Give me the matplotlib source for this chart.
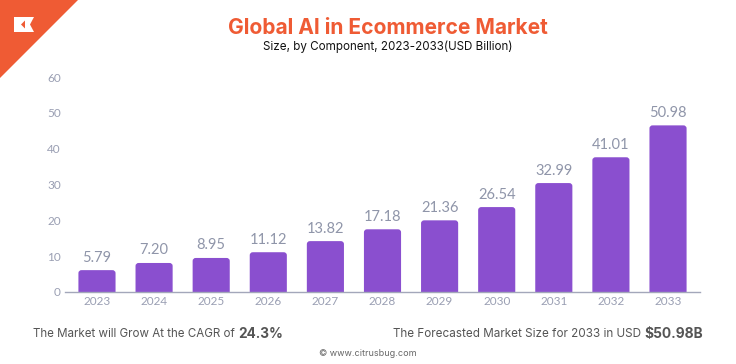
import matplotlib
matplotlib.use("Agg")
import matplotlib.pyplot as plt
from matplotlib.patches import FancyBboxPatch, Polygon

# ---- data ----
years = ["2023", "2024", "2025", "2026", "2027", "2028", "2029", "2030", "2031", "2032", "2033"]
bar_heights = [6.1, 8.1, 9.5, 11.1, 14.2, 17.5, 20.0, 23.7, 30.4, 37.6, 46.5]
value_labels = ["5.79", "7.20", "8.95", "11.12", "13.82", "17.18", "21.36", "26.54", "32.99", "41.01", "50.98"]
y_ticks = [0, 10, 20, 30, 40, 50, 60]

title = "Global AI in Ecommerce Market"
subtitle = "Size, by Component, 2023-2033(USD Billion)"
cagr_text = "The Market will Grow At the CAGR of "
cagr_value = "24.3%"
forecast_text = "The Forecasted Market Size for 2033 in USD "
forecast_value = "$50.98B"
credit = "© www.citrusbug.com"

ORANGE = "#ef5b34"
PURPLE = "#8a4fcf"
GRAY = "#9a9fb3"
LABEL_GRAY = "#8f95a9"
TEXT_GRAY = "#555555"

W, H = 736, 364
fig = plt.figure(figsize=(7.36, 3.64), dpi=100)
fig.patch.set_facecolor("white")

ax = fig.add_axes([65 / W, 1 - 292 / H, 635 / W, 215 / H])
x = list(range(len(years)))
bars = ax.bar(x, bar_heights, width=0.65, color=PURPLE)
for b in bars:
    b.set_visible(False)
    p = FancyBboxPatch((b.get_x(), -2), b.get_width(), b.get_height() + 2,
                       boxstyle="round,pad=0,rounding_size=0.055",
                       mutation_aspect=15, facecolor=PURPLE, edgecolor="none")
    ax.add_patch(p)

for xi, h, lab in zip(x, bar_heights, value_labels):
    ax.annotate(lab, (xi, h), xytext=(0, 4), textcoords="offset points",
                ha="center", va="bottom", fontsize=10.5, color=LABEL_GRAY,
                family="Lato")

ax.set_xlim(-0.56, 10.56)
ax.set_ylim(0, 60)
ax.set_yticks(y_ticks)
ax.set_yticklabels([str(t) for t in y_ticks])
ax.set_xticks(x)
ax.set_xticklabels(years)
ax.tick_params(axis="both", length=0, labelsize=8.5, colors=GRAY)
ax.tick_params(axis="y", pad=3)
ax.tick_params(axis="x", pad=3)
for lbl in ax.get_xticklabels() + ax.get_yticklabels():
    lbl.set_family("Lato")
for s in ["top", "right", "left"]:
    ax.spines[s].set_visible(False)
ax.spines["bottom"].set_color("#a3a7ba")
ax.spines["bottom"].set_linewidth(1)
ax.set_facecolor("none")

fig.canvas.draw()
r = fig.canvas.get_renderer()


def fit(t, target_w):
    w = t.get_window_extent(r).width
    t.set_fontsize(t.get_fontsize() * target_w / w)


# titles
tt = fig.text(388 / W, 1 - 28.5 / H, title, ha="center", va="center", fontsize=15,
              fontweight="bold", color=ORANGE, family="Inter")
fit(tt, 320)
st = fig.text(388 / W, 1 - 47 / H, subtitle, ha="center", va="center", fontsize=8.5,
              color="#111111", family="Inter")
fit(st, 250)

# corner logo
fig.patches.append(Polygon([[0, 1], [78 / W, 1], [0, 1 - 78 / H]], closed=True,
                           transform=fig.transFigure, facecolor=ORANGE,
                           edgecolor="none"))
fig.patches.append(Polygon([[14 / W, 1 - 17 / H], [34 / W, 1 - 17 / H],
                            [30 / W, 1 - 24.5 / H], [34 / W, 1 - 32 / H],
                            [14 / W, 1 - 32 / H]], closed=True,
                           transform=fig.transFigure, facecolor="white",
                           edgecolor="none"))
fig.patches.append(Polygon([[21 / W, 1 - 24.5 / H], [25 / W, 1 - 20.5 / H],
                            [25 / W, 1 - 28.5 / H]], closed=True,
                           transform=fig.transFigure, facecolor=ORANGE,
                           edgecolor="none"))

# bottom texts
Y = 1 - 334 / H
t1 = fig.text(33 / W, Y, cagr_text, ha="left", va="center",
              fontsize=8.5, color=TEXT_GRAY, family="Inter")
t2 = fig.text(0, Y, cagr_value, ha="left", va="center",
              fontsize=10, fontweight="bold", color=TEXT_GRAY, family="Inter")
tot = t1.get_window_extent(r).width + t2.get_window_extent(r).width
k = 251 / tot
t1.set_fontsize(t1.get_fontsize() * k)
t2.set_fontsize(t2.get_fontsize() * k)
t2.set_x(t1.get_window_extent(r).x1 / W)

t4 = fig.text(703 / W, Y, forecast_value, ha="right", va="center",
              fontsize=10, fontweight="bold", color=TEXT_GRAY, family="Inter")
t3 = fig.text(0, Y, forecast_text, ha="right", va="center",
              fontsize=8.5, color=TEXT_GRAY, family="Inter")
tot = t3.get_window_extent(r).width + t4.get_window_extent(r).width
k = 311 / tot
t3.set_fontsize(t3.get_fontsize() * k)
t4.set_fontsize(t4.get_fontsize() * k)
t3.set_x(t4.get_window_extent(r).x0 / W)

fig.text(0.5, 1 - 353 / H, credit, ha="center", va="center", fontsize=6.5,
         color="#666666", family="Inter")

fig.savefig("out.png", dpi=100)
